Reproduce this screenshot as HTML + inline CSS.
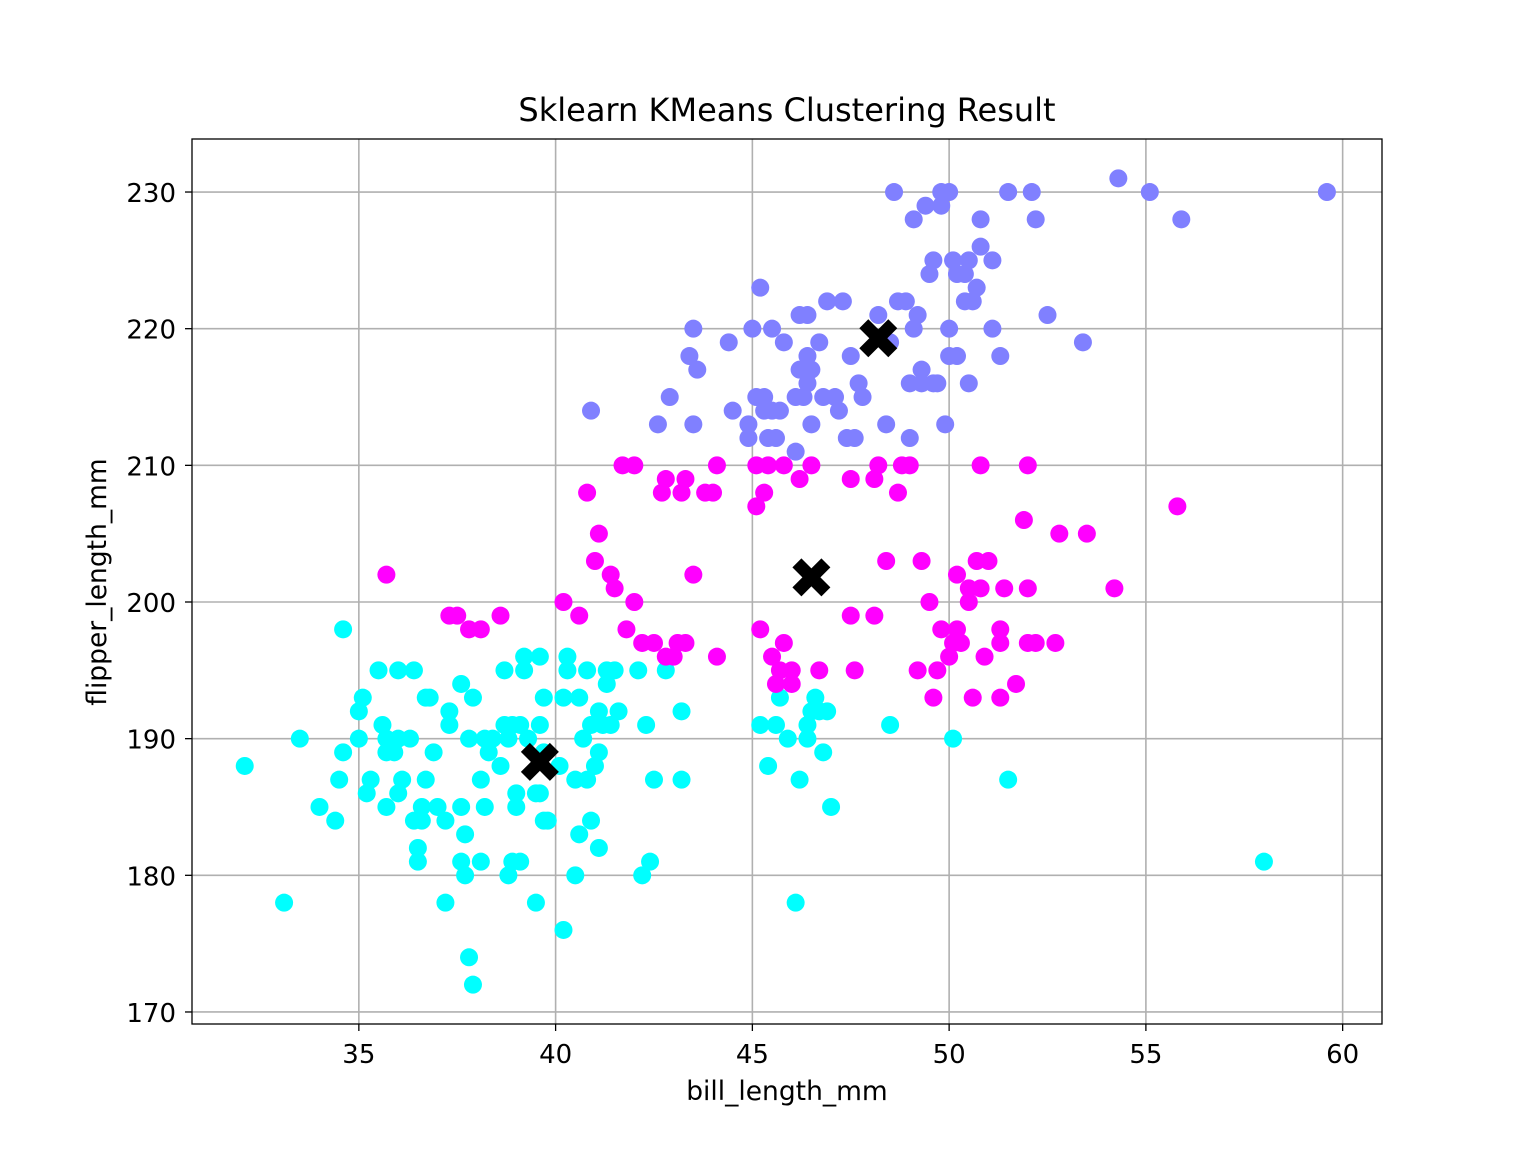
<!DOCTYPE html>
<html><head><meta charset="utf-8"><style>
html,body{margin:0;padding:0;background:#fff;}
svg{display:block;font-family:"DejaVu Sans","Liberation Sans",sans-serif;}
</style></head><body>
<svg id="chart" width="1536" height="1152" viewBox="0 0 1536 1152" xmlns="http://www.w3.org/2000/svg">
<rect width="1536" height="1152" fill="#fff"/>
<g id="grid"></g>
<g id="points"></g>
<g id="axes"></g>
<text x="787" y="121" style="font-size:32px" text-anchor="middle">Sklearn KMeans Clustering Result</text>
<text x="787" y="1100" style="font-size:26.5px" text-anchor="middle">bill_length_mm</text>
<text x="106" y="582" style="font-size:26.5px" text-anchor="middle" transform="rotate(-90 106 582)">flipper_length_mm</text>
</svg>
<script>
const xTicks=[35,40,45,50,55,60];
const yTicks=[170,180,190,200,210,220,230];
const cyanX=[32.1,33.1,33.5,34.0,34.4,34.5,34.6,34.6,35.0,35.1,35.0,35.2,35.3,35.5,35.6,35.7,35.7,35.7,35.9,36.0,36.0,36.0,36.1,36.3,36.4,36.4,36.5,36.5,36.6,36.6,36.7,36.7,36.8,36.9,37.0,37.2,37.2,37.3,37.3,37.6,37.6,37.6,37.7,37.7,37.8,37.9,37.8,37.9,38.1,38.1,38.2,38.2,38.3,38.4,38.6,38.7,38.7,38.8,38.8,38.9,38.9,39.0,39.0,39.1,39.2,39.2,39.1,39.3,39.5,39.5,39.6,39.6,39.7,39.7,39.8,39.6,39.7,40.1,40.2,40.3,40.3,40.2,40.5,40.5,40.6,40.6,40.7,40.8,40.8,40.9,40.9,41.0,41.1,41.1,41.1,41.2,41.3,41.3,41.4,41.5,41.6,42.1,42.2,42.3,42.4,42.5,42.8,43.2,43.2,45.2,45.4,45.6,45.7,45.9,46.1,46.2,46.4,46.4,46.5,46.6,46.7,46.8,46.9,47.0,48.5,50.1,51.5,58.0];
const cyanY=[188,178,190,185,184,187,198,189,192,193,190,186,187,195,191,190,185,189,189,195,186,190,187,190,195,184,182,181,185,184,193,187,193,189,185,184,178,192,191,194,185,181,183,180,174,172,190,193,187,181,190,185,189,190,188,195,191,180,190,181,191,186,185,181,196,195,191,190,178,186,196,191,193,184,184,186,189,188,176,196,195,193,180,187,183,193,190,195,187,191,184,188,189,182,192,191,195,194,191,195,192,195,180,191,181,187,195,192,187,191,188,191,193,190,178,187,191,190,192,193,192,189,192,185,191,190,187,181];
const magX=[35.7,37.3,37.5,37.8,38.1,38.6,40.2,40.6,40.8,41.0,41.1,41.4,41.5,41.7,41.8,42.0,42.0,42.2,42.5,42.7,42.8,42.8,43.0,43.1,43.2,43.3,43.3,43.5,43.8,44.0,44.1,44.1,45.1,45.1,45.2,45.3,45.4,45.5,45.6,45.7,45.8,45.8,46.0,46.0,46.2,46.5,46.7,47.5,47.5,47.6,48.1,48.1,48.2,48.4,48.7,48.8,49.0,49.2,49.3,49.5,49.6,49.7,49.8,50.0,50.1,50.2,50.2,50.3,50.5,50.5,50.6,50.7,50.8,50.8,50.9,51.0,51.3,51.3,51.3,51.4,51.7,51.9,52.0,52.0,52.0,52.2,52.7,52.8,53.5,54.2,55.8];
const magY=[202,199,199,198,198,199,200,199,208,203,205,202,201,210,198,200,210,197,197,208,209,196,196,197,208,209,197,202,208,208,210,196,210,207,198,208,210,196,194,195,197,210,194,195,209,210,195,209,199,195,199,209,210,203,208,210,210,195,203,200,193,195,198,196,197,202,198,197,200,201,193,203,201,210,196,203,193,198,197,201,194,206,210,201,197,197,197,205,205,201,207];
const purX=[40.9,42.6,42.9,43.4,43.5,43.5,43.6,44.4,44.5,44.9,44.9,45.0,45.1,45.2,45.3,45.3,45.4,45.5,45.5,45.6,45.7,45.8,46.1,46.1,46.2,46.2,46.3,46.4,46.4,46.4,46.5,46.5,46.7,46.8,46.9,47.1,47.2,47.3,47.4,47.5,47.6,47.7,47.8,48.2,48.4,48.5,48.6,48.7,48.9,49.0,49.0,49.1,49.1,49.2,49.3,49.3,49.4,49.5,49.6,49.6,49.7,49.8,49.8,49.9,50.0,50.0,50.0,50.1,50.2,50.2,50.4,50.4,50.5,50.5,50.6,50.7,50.8,50.8,51.1,51.1,51.3,51.5,52.1,52.2,52.5,53.4,54.3,55.1,55.9,59.6];
const purY=[214,213,215,218,220,213,217,219,214,213,212,220,215,223,215,214,212,220,214,212,214,219,211,215,221,217,215,221,218,216,217,213,219,215,222,215,214,222,212,218,212,216,215,221,213,219,230,222,222,216,212,220,228,221,217,216,229,224,216,225,216,230,229,213,220,218,230,225,224,218,224,222,225,216,222,223,226,228,225,220,218,230,230,228,221,219,231,230,228,230];
const centX=[39.6,46.5,48.2];
const centY=[188.3,201.8,219.3];

const NS="http://www.w3.org/2000/svg";
const L=192,R=1382,T=139,B=1024;
const xMin=30.76,xMax=61.0,yMin=169.12,yMax=233.88;
function sx(v){return L+(v-xMin)/(xMax-xMin)*(R-L);}
function sy(v){return B-(v-yMin)/(yMax-yMin)*(B-T);}
function mk(tag,attrs,parent){const e=document.createElementNS(NS,tag);for(const k in attrs)e.setAttribute(k,attrs[k]);parent.appendChild(e);return e;}
const grid=document.getElementById('grid'),pts=document.getElementById('points'),axes=document.getElementById('axes');
xTicks.forEach(t=>{
  const g=mk('line',{x1:sx(t),x2:sx(t),y1:T,y2:B,stroke:'#b0b0b0','stroke-width':1.6},grid);
  
  
  mk('line',{x1:sx(t),x2:sx(t),y1:B,y2:B+7,stroke:'#000','stroke-width':1.3},axes);
  const tx=mk('text',{x:sx(t),y:B+39,style:'font-size:26px','text-anchor':'middle'},axes);
  tx.textContent=t;
  
  
});
yTicks.forEach(t=>{
  const g=mk('line',{x1:L,x2:R,y1:sy(t),y2:sy(t),stroke:'#b0b0b0','stroke-width':1.6},grid);
  
  
  mk('line',{x1:L-7,x2:L,y1:sy(t),y2:sy(t),stroke:'#000','stroke-width':1.3},axes);
  const tx=mk('text',{x:L-16,y:sy(t)+10,style:'font-size:26px','text-anchor':'end'},axes);
  tx.textContent=t;
  
  
});
const frame=mk('rect',{x:L,y:T,width:R-L,height:B-T,fill:'none',stroke:'#000','stroke-width':1.3},axes);


function series(xs,ys,color,name){
  xs.forEach((x,i)=>{
    const c=mk('circle',{cx:sx(x),cy:sy(ys[i]),r:9,fill:color},pts);
    
    
  });
}
series(cyanX,cyanY,'#00ffff','cluster-0-point');
series(magX,magY,'#ff00ff','cluster-1-point');
series(purX,purY,'#8080ff','cluster-2-point');
centX.forEach((x,i)=>{
  const cx=sx(x),cy=sy(centY[i]),a=19,w=9;
  const d=`M${cx-a+w},${cy-a} L${cx},${cy-w} L${cx+a-w},${cy-a} L${cx+a},${cy-a+w} L${cx+w},${cy} L${cx+a},${cy+a-w} L${cx+a-w},${cy+a} L${cx},${cy+w} L${cx-a+w},${cy+a} L${cx-a},${cy+a-w} L${cx-w},${cy} L${cx-a},${cy-a+w} Z`;
  const p=mk('path',{d:d,fill:'#000'},pts);
  
  
});
</script>
</body></html>
